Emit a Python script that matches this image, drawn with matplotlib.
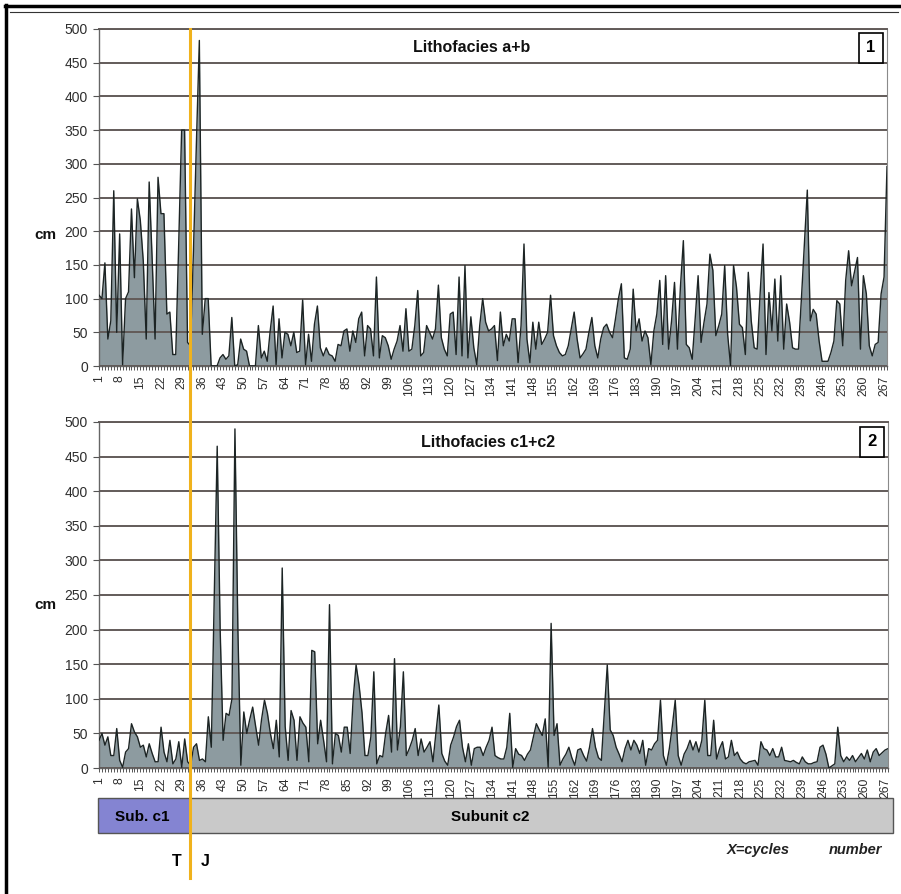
import numpy as np
import matplotlib
matplotlib.use('Agg')
import matplotlib.pyplot as plt
from matplotlib.patches import Rectangle
from matplotlib.lines import Line2D

plt.rcParams['font.family'] = ['Liberation Sans', 'DejaVu Sans']

# thickness (cm) of each cycle
cycles = np.arange(1, 269)

lith_ab = [
  105, 100, 153, 40, 67, 260, 50, 196, 2, 100,
  110, 233, 131, 248, 216, 156, 40, 273, 160, 40,
  280, 226, 226, 77, 80, 17, 17, 180, 350, 350,
  35, 30, 170, 330, 483, 47, 100, 100, 0, 0,
  0, 12, 17, 10, 15, 72, 0, 2, 40, 25,
  22, 0, 0, 0, 60, 12, 22, 7, 52, 89,
  2, 70, 12, 50, 47, 30, 50, 20, 22, 98,
  2, 47, 7, 62, 89, 27, 15, 27, 17, 15,
  7, 32, 30, 52, 55, 22, 52, 35, 70, 80,
  15, 60, 55, 15, 132, 12, 45, 42, 30, 10,
  25, 37, 60, 22, 85, 22, 25, 60, 112, 15,
  20, 60, 50, 40, 55, 120, 42, 25, 15, 77,
  80, 17, 132, 15, 149, 12, 73, 27, 2, 60,
  100, 65, 52, 55, 60, 8, 80, 30, 47, 37,
  70, 70, 5, 60, 181, 40, 5, 65, 25, 65,
  32, 40, 50, 105, 45, 30, 20, 15, 17, 30,
  55, 80, 40, 12, 18, 25, 50, 72, 30, 12,
  40, 57, 62, 50, 42, 70, 100, 122, 12, 10,
  25, 114, 52, 70, 37, 52, 42, 2, 52, 77,
  127, 32, 134, 25, 67, 124, 25, 117, 186, 32,
  27, 10, 70, 134, 35, 65, 92, 166, 142, 45,
  60, 77, 149, 47, 0, 149, 117, 62, 57, 17,
  139, 67, 27, 25, 107, 181, 17, 109, 52, 129,
  37, 134, 25, 92, 65, 27, 25, 25, 100, 180,
  261, 67, 84, 77, 37, 7, 7, 7, 20, 37,
  97, 92, 30, 127, 171, 119, 140, 161, 25, 134,
  107, 30, 15, 32, 35, 107, 132, 296,
]

lith_c = [
  40, 50, 33, 45, 18, 18, 57, 11, 1, 23,
  28, 64, 52, 45, 30, 33, 16, 35, 21, 9,
  9, 59, 23, 9, 40, 6, 13, 38, 1, 42,
  9, 4, 30, 35, 11, 13, 9, 74, 30, 250,
  465, 200, 40, 79, 76, 100, 490, 200, 4, 81,
  50, 70, 88, 60, 33, 70, 98, 79, 50, 28,
  69, 16, 289, 60, 11, 83, 69, 11, 74, 65,
  59, 9, 170, 168, 35, 69, 40, 9, 236, 6,
  50, 47, 23, 59, 59, 21, 100, 149, 120, 80,
  18, 18, 45, 139, 6, 18, 16, 50, 76, 23,
  158, 26, 60, 139, 18, 28, 40, 57, 18, 42,
  23, 30, 38, 9, 50, 91, 21, 10, 4, 33,
  45, 60, 69, 30, 9, 35, 4, 28, 30, 30,
  18, 30, 40, 59, 18, 15, 13, 13, 30, 79,
  1, 28, 20, 18, 11, 20, 26, 45, 64, 55,
  47, 71, 1, 209, 47, 64, 4, 13, 20, 30,
  15, 4, 26, 28, 18, 10, 30, 57, 30, 15,
  11, 80, 149, 55, 47, 30, 20, 9, 28, 40,
  26, 40, 33, 21, 40, 4, 28, 26, 35, 40,
  98, 18, 4, 28, 60, 98, 18, 4, 20, 28,
  40, 26, 38, 23, 40, 98, 18, 18, 69, 13,
  28, 38, 13, 16, 40, 18, 23, 13, 8, 6,
  9, 10, 11, 4, 38, 28, 26, 18, 28, 16,
  16, 30, 11, 10, 9, 11, 8, 6, 16, 9,
  6, 6, 8, 9, 30, 33, 20, 0, 3, 6,
  59, 18, 9, 16, 11, 18, 9, 15, 21, 13,
  26, 9, 23, 28, 18, 22, 26, 28,
]

panels = [
  (lith_ab, 'Lithofacies a+b', '1'),
  (lith_c, 'Lithofacies c1+c2', '2'),
]

x_ticks = list(range(1, 268, 7))
y_ticks = list(range(0, 501, 50))

W, H = 901, 894
def fx(px): return px / W
def fy(py): return 1 - py / H

fill_c = '#8d9ba0'
line_c = '#1c2424'
grid_c = '#625b59'
tick_c = '#2e2e2e'

fig = plt.figure(figsize=(W/100, H/100), dpi=100)

# axes boxes in pixels: (left, top, right, bottom)
boxes = [(99, 29, 887, 366), (99, 422, 888, 768)]
title_pos = [(472, 47), (488, 443)]
num_pos = [(859, 33), (860, 427)]
cm_pos = [(45, 235), (45, 605)]

for k, (vals, title, num) in enumerate(panels):
  l, t, r, b = boxes[k]
  ax = fig.add_axes([fx(l), fy(b), (r-l)/W, (b-t)/H])
  vals = np.array(vals)
  ax.fill_between(cycles, 0, vals, color=fill_c, lw=0, zorder=1)
  ax.plot(cycles, vals, color=line_c, lw=1.0, zorder=3)
  ax.set_xlim(1, 268)
  ax.set_ylim(0, 500)

  ax.set_yticks(y_ticks)
  ax.yaxis.grid(True, color=grid_c, lw=1.4)
  ax.set_axisbelow(False)
  ax.set_xticks(x_ticks)
  ax.set_xticks(cycles, minor=True)
  ax.set_xticklabels([str(v) for v in x_ticks], rotation=90)
  ax.tick_params(axis='x', which='both', direction='out', length=3, width=0.7, color='#555555')
  ax.tick_params(axis='x', labelsize=8.8, pad=4, labelcolor=tick_c)
  ax.tick_params(axis='y', direction='out', length=4, width=0.8, color='#555555',
                 labelsize=10, pad=4, labelcolor=tick_c)

  for s in ['left', 'bottom']:
    ax.spines[s].set_color('#666666')
    ax.spines[s].set_linewidth(1.0)
  ax.spines['right'].set_color('#8a8a8a')
  ax.spines['top'].set_color(grid_c)
  ax.spines['top'].set_linewidth(1.4)

  fig.text(fx(title_pos[k][0]), fy(title_pos[k][1]), title, ha='center', va='center',
           fontsize=11.5, fontweight='bold', color='#111111')
  bx, by = num_pos[k]
  fig.patches.append(Rectangle((fx(bx), fy(by+30)), 24/W, 30/H, transform=fig.transFigure,
                               fc='white', ec='black', lw=1.2, zorder=5))
  fig.text(fx(bx+12), fy(by+15), num, ha='center', va='center', fontsize=12,
           fontweight='bold', zorder=6)
  fig.text(fx(cm_pos[k][0]), fy(cm_pos[k][1]), 'cm', ha='center', va='center',
           fontsize=11, fontweight='bold', color='#111111')

# subunit bar
fig.patches.append(Rectangle((fx(98), fy(833)), (190-98)/W, 35/H, transform=fig.transFigure,
                             fc='#8484d2', ec='#555555', lw=1.0))
fig.patches.append(Rectangle((fx(190), fy(833)), (893-190)/W, 35/H, transform=fig.transFigure,
                             fc='#c9c9c9', ec='#555555', lw=1.0))
fig.text(fx(142), fy(817), 'Sub. c1', ha='center', va='center', fontsize=11, fontweight='bold')
fig.text(fx(490), fy(817), 'Subunit c2', ha='center', va='center', fontsize=11, fontweight='bold')

fig.text(fx(177), fy(861), 'T', ha='center', va='center', fontsize=11.5, fontweight='bold')
fig.text(fx(205), fy(861), 'J', ha='center', va='center', fontsize=11.5, fontweight='bold')

fig.text(fx(727), fy(850), 'X=cycles', ha='left', va='center', fontsize=10.5,
         fontweight='bold', style='italic', color='#222222')
fig.text(fx(882), fy(850), 'number', ha='right', va='center', fontsize=10.5,
         fontweight='bold', style='italic', color='#222222')

# Triassic / Jurassic boundary
fig.lines.append(Line2D([fx(190), fx(190)], [fy(29), fy(878)], transform=fig.transFigure,
                        color='#f0b21c', lw=2.2, zorder=10))

# outer frame
fig.lines.append(Line2D([fx(6), fx(6)], [fy(5), fy(894)], transform=fig.transFigure, color='black', lw=2.5))
fig.lines.append(Line2D([fx(5), fx(899)], [fy(6), fy(6)], transform=fig.transFigure, color='black', lw=2.5))
fig.lines.append(Line2D([fx(10), fx(898)], [fy(12), fy(12)], transform=fig.transFigure, color='#333333', lw=0.8))

fig.savefig('out.png', dpi=100)
print('Saved Figure: out.png')
